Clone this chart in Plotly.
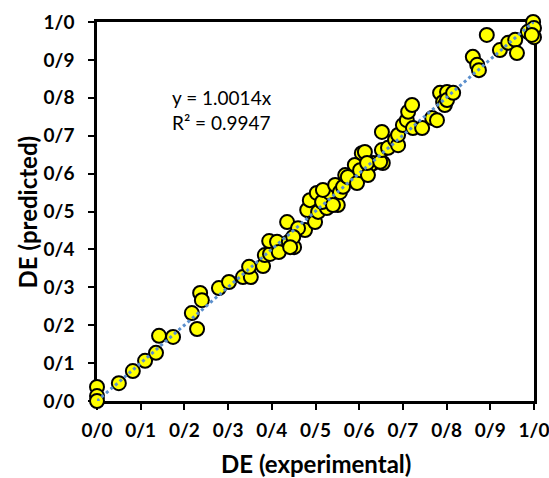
import plotly.graph_objects as go

de_experimental = [
    0.000, 0.000, 0.000, 0.050, 0.082, 0.110, 0.135, 0.142, 0.174, 0.217,
    0.229, 0.236, 0.240, 0.279, 0.302, 0.334, 0.352, 0.348, 0.380, 0.384,
    0.396, 0.394, 0.412, 0.416, 0.451, 0.439, 0.435, 0.476, 0.460, 0.487,
    0.494, 0.449, 0.442, 0.481, 0.499, 0.506, 0.487, 0.503, 0.526, 0.515,
    0.533, 0.551, 0.540, 0.517, 0.545, 0.556, 0.563, 0.568, 0.574, 0.595,
    0.590, 0.606, 0.618, 0.632, 0.654, 0.625, 0.602, 0.620, 0.613, 0.618,
    0.648, 0.652, 0.652, 0.666, 0.682, 0.689, 0.689, 0.700, 0.709, 0.712,
    0.721, 0.723, 0.744, 0.767, 0.778, 0.785, 0.792, 0.796, 0.801, 0.801,
    0.815, 0.860, 0.870, 0.874, 0.892, 0.922, 0.941, 0.957, 0.961, 0.986,
    0.998, 1.000, 1.000, 0.995,
]
de_predicted = [
    0.037, 0.013, 0.000, 0.047, 0.079, 0.106, 0.127, 0.172, 0.169, 0.232,
    0.190, 0.285, 0.266, 0.298, 0.314, 0.327, 0.327, 0.354, 0.356, 0.385,
    0.388, 0.422, 0.420, 0.393, 0.406, 0.420, 0.472, 0.451, 0.456, 0.512,
    0.491, 0.433, 0.406, 0.504, 0.472, 0.499, 0.530, 0.549, 0.509, 0.525,
    0.549, 0.517, 0.517, 0.557, 0.570, 0.551, 0.565, 0.596, 0.591, 0.575,
    0.623, 0.654, 0.602, 0.628, 0.628, 0.623, 0.609, 0.596, 0.657, 0.628,
    0.631, 0.662, 0.710, 0.668, 0.689, 0.675, 0.702, 0.728, 0.741, 0.763,
    0.781, 0.720, 0.720, 0.747, 0.741, 0.813, 0.789, 0.781, 0.815, 0.794,
    0.813, 0.908, 0.887, 0.873, 0.966, 0.926, 0.945, 0.953, 0.918, 0.974,
    1.000, 0.984, 0.960, 0.966,
]

slope = 1.0014
r_squared = 0.9947
trend_x = [0.0, 1.0]
trend_y = [slope * v for v in trend_x]

tick_vals = [0.0, 0.1, 0.2, 0.3, 0.4, 0.5, 0.6, 0.7, 0.8, 0.9, 1.0]
tick_text = ["0/0", "0/1", "0/2", "0/3", "0/4", "0/5", "0/6", "0/7", "0/8", "0/9", "1/0"]

x_title = "DE (experimental)"
y_title = "DE (predicted)"

fig = go.Figure()
fig.add_trace(go.Scatter(
    x=de_experimental, y=de_predicted, mode="markers",
    marker=dict(size=14, color="#FFFF00", line=dict(color="black", width=2)),
    cliponaxis=False, showlegend=False,
))
fig.add_trace(go.Scatter(
    x=trend_x, y=trend_y, mode="lines",
    line=dict(color="#5B8FCC", width=3, dash="dot"),
    cliponaxis=False, showlegend=False,
))

fig.add_annotation(
    x=0.167, y=0.769, xref="x", yref="y", xanchor="left", yanchor="middle",
    text=f"y = {slope:.4f}x<br>R² = {r_squared:.4f}", showarrow=False, align="left",
    font=dict(family="Lato, sans-serif", size=19, color="black"),
)
fig.add_annotation(
    x=0.5, y=-0.166, xref="paper", yref="paper", xanchor="center", yanchor="middle",
    text=f"<b>{x_title}</b>", showarrow=False, borderpad=0,
    font=dict(family="Lato, sans-serif", size=24, color="black"),
)
fig.add_annotation(
    x=-0.158, y=0.5, xref="paper", yref="paper", xanchor="center", yanchor="middle",
    text=f"<b>{y_title}</b>", showarrow=False, textangle=-90, borderpad=0,
    font=dict(family="Lato, sans-serif", size=24, color="black"),
)

axis_common = dict(
    range=[0, 1], tickvals=tick_vals, ticktext=tick_text,
    showgrid=False, zeroline=False, showline=True, linecolor="black", linewidth=2.5,
    mirror=True, ticks="outside", ticklen=6, tickwidth=2, tickcolor="black",
    tickfont=dict(family="Lato, sans-serif", size=19, color="black", weight="bold"),
    layer="below traces", automargin=False, ticklabeloverflow="allow",
)

fig.update_layout(
    width=549, height=478,
    margin=dict(l=97, r=15, t=22, b=77),
    paper_bgcolor="white", plot_bgcolor="white",
    xaxis=dict(**axis_common, ticklabelstandoff=4),
    yaxis=dict(**axis_common, ticklabelstandoff=10),
)

fig.write_html("out.html")
